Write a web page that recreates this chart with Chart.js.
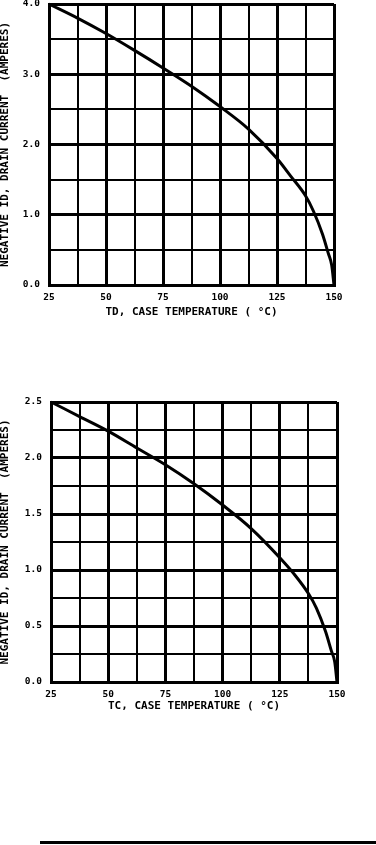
<!DOCTYPE html>
<html>
<head>
<meta charset="utf-8">
<script src="https://cdn.jsdelivr.net/npm/chart.js@4.4.1/dist/chart.umd.min.js"></script>
<style>
    body { margin: 0; background: #fff; width: 376px; height: 845px; position: relative; overflow: hidden; }
    #grafico1 { position: absolute; left: 0; top: 0; }
    #grafico2 { position: absolute; left: 0; top: 390px; }
    .linha { position: absolute; left: 40px; top: 841px; width: 336px; height: 3px; background: #000; }
</style>
</head>
<body>
<canvas id="grafico1" width="376" height="320"></canvas>
<canvas id="grafico2" width="376" height="324"></canvas>
<div class="linha"></div>

<script>
// temperatura do encapsulamento (graus C)
const temperatura1 = [25, 37.5, 50, 62.5, 75, 87.5, 100, 112.5, 125, 131, 137.5, 141, 145, 147.5, 149, 150];
const corrente1 = [4.0, 3.80, 3.58, 3.34, 3.09, 2.83, 2.54, 2.22, 1.80, 1.55, 1.27, 1.05, 0.72, 0.45, 0.28, 0.0];

const temperatura2 = [25, 37.5, 50, 62.5, 75, 87.5, 100, 112.5, 125, 131, 137.5, 141, 145, 147.5, 149, 150];
const corrente2 = [2.5, 2.37, 2.24, 2.09, 1.94, 1.77, 1.58, 1.37, 1.11, 0.97, 0.79, 0.66, 0.45, 0.28, 0.18, 0.0];

const xTicks = [25, 50, 75, 100, 125, 150];
const tituloX1 = 'TD, CASE TEMPERATURE ( \u00B0C)';
const tituloX2 = 'TC, CASE TEMPERATURE ( \u00B0C)';
const tituloY = 'NEGATIVE ID, DRAIN CURRENT  (AMPERES)';

const fonte = '"DejaVu Sans Mono", "Liberation Mono", monospace';

function montaPontos(xs, ys) {
    let pontos = [];
    for (let i = 0; i < xs.length; i++) {
        pontos.push({x: xs[i], y: ys[i]});
    }
    return pontos;
}

function createGrafico(chartId, pontos, cfg) {
    let ctx = document.getElementById(chartId).getContext('2d');
    new Chart(ctx, {
        type: 'line',
        data: {
            datasets: [{
                data: pontos,
                borderColor: '#000',
                borderWidth: 3,
                pointRadius: 0,
                cubicInterpolationMode: 'monotone',
                clip: false,
            }]
        },
        options: {
            responsive: false,
            animation: false,
            events: [],
            layout: { padding: { top: cfg.topo, right: cfg.direita, bottom: 0, left: 0 } },
            plugins: { legend: { display: false }, tooltip: { enabled: false } },
            scales: {
                x: {
                    type: 'linear',
                    min: 25,
                    max: 150,
                    afterFit: function(scale) { scale.height = cfg.alturaX; },
                    ticks: {
                        stepSize: 12.5,
                        autoSkip: false,
                        maxRotation: 0,
                        padding: 7,
                        color: '#000',
                        font: { family: fonte, size: 9.5, weight: 'bold' },
                        callback: function(v) { return xTicks.includes(v) ? String(v) : ''; }
                    },
                    grid: {
                        color: '#000',
                        drawTicks: false,
                        lineWidth: function(c) {
                            let v = c.tick ? c.tick.value : 0;
                            return (v % 25 === 0) ? 3 : 2;
                        }
                    },
                    border: { color: '#000', width: 3 },
                    title: {
                        display: true,
                        text: cfg.tituloX,
                        color: '#000',
                        padding: { top: 0, bottom: 2 },
                        font: { family: fonte, size: 11, weight: 'bold', lineHeight: 1 }
                    }
                },
                y: {
                    min: 0,
                    max: cfg.maxY,
                    afterFit: function(scale) {
                        scale.width = cfg.larguraY;
                        scale.paddingTop = 0;
                        scale.paddingBottom = 0;
                    },
                    ticks: {
                        stepSize: cfg.passoY,
                        autoSkip: false,
                        padding: 9,
                        color: '#000',
                        font: { family: fonte, size: 9.5, weight: 'bold' },
                        callback: function(v) {
                            let r = v / cfg.rotuloY;
                            return Math.abs(r - Math.round(r)) < 1e-6 ? v.toFixed(1) : '';
                        }
                    },
                    grid: {
                        color: '#000',
                        drawTicks: false,
                        lineWidth: function(c) {
                            let v = c.tick ? c.tick.value : 0;
                            let r = v / cfg.rotuloY;
                            return Math.abs(r - Math.round(r)) < 1e-6 ? 3 : 2;
                        }
                    },
                    border: { color: '#000', width: 3 },
                    title: {
                        display: true,
                        text: tituloY,
                        color: '#000',
                        padding: { top: 0, bottom: 0 },
                        font: { family: fonte, size: 11, weight: 'bold', lineHeight: 1 }
                    }
                }
            }
        }
    });
}

createGrafico('grafico1', montaPontos(temperatura1, corrente1), {
    maxY: 4, passoY: 0.5, rotuloY: 1, larguraY: 49, direita: 42, topo: 4, alturaX: 35, tituloX: tituloX1
});
createGrafico('grafico2', montaPontos(temperatura2, corrente2), {
    maxY: 2.5, passoY: 0.25, rotuloY: 0.5, larguraY: 51, direita: 39, topo: 12, alturaX: 32, tituloX: tituloX2
});
</script>
</body>
</html>
